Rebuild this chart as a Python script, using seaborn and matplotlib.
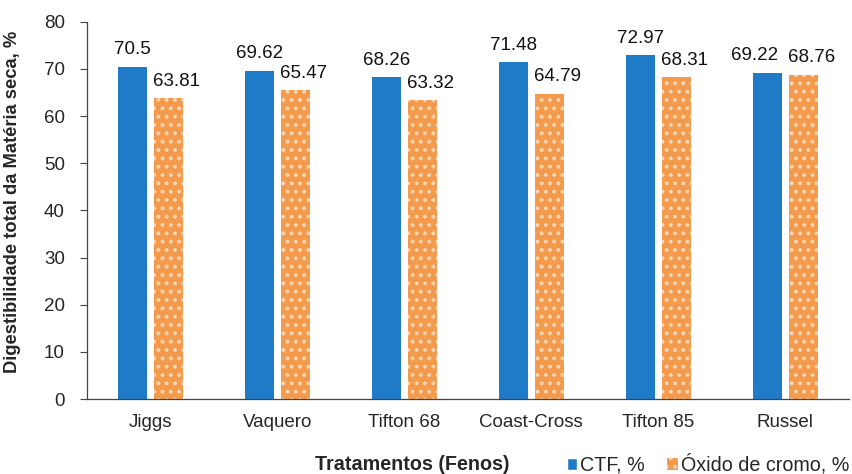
import matplotlib
matplotlib.use("Agg")
import matplotlib.pyplot as plt
import seaborn as sns
import pandas as pd
from matplotlib.patches import Patch

categories = ["Jiggs", "Vaquero", "Tifton 68", "Coast-Cross", "Tifton 85", "Russel"]
ctf = [70.5, 69.62, 68.26, 71.48, 72.97, 69.22]
oxido = [63.81, 65.47, 63.32, 64.79, 68.31, 68.76]
series = ["CTF, %", "Óxido de cromo, %"]
yticks = [0, 10, 20, 30, 40, 50, 60, 70, 80]

df = pd.DataFrame({
    "Feno": categories * 2,
    "Valor": ctf + oxido,
    "Método": [series[0]] * len(categories) + [series[1]] * len(categories),
})

sns.set_theme(style="white")
plt.rcParams["font.family"] = ["Liberation Sans", "DejaVu Sans"]
plt.rcParams["hatch.linewidth"] = 1.6

blue = "#1f7ac8"
orange = "#f49a4c"
dots = "#fbd6b4"

fig = plt.figure(figsize=(8.53, 4.74), dpi=100)
ax = fig.add_axes([0.102, 0.158, 0.893, 0.796])

sns.barplot(data=df, x="Feno", y="Valor", hue="Método", order=categories,
            hue_order=series, palette=[blue, orange], width=0.567, gap=0.19,
            ax=ax, legend=False, saturation=1)

label_fmt = lambda vals: [f"{v:g}" for v in vals]
blue_labels = ax.bar_label(ax.containers[0], labels=label_fmt(ctf), padding=6,
                           fontsize=13.5, color="#111111")
orange_labels = ax.bar_label(ax.containers[1], labels=label_fmt(oxido), padding=6,
                             fontsize=13.5, color="#111111")
# nudge labels sideways so neighbouring values stay readable
for t in orange_labels:
    t.xyann = (6, 6)
blue_labels[-1].xyann = (-9, 6)

# dotted texture on the chromium-oxide bars
for bar in ax.containers[1]:
    bar.set_hatch("..")
    bar.set_edgecolor(dots)
    bar.set_linewidth(0)
for bar in ax.containers[0]:
    bar.set_linewidth(0)

ax.set_ylim(0, 80)
ax.set_yticks(yticks)
ax.set_xlim(-0.5, len(categories) - 0.5)
ax.tick_params(axis="y", which="both", left=True, length=5, width=0.8,
               color="#444444", labelsize=13.5, pad=11)
ax.tick_params(axis="x", bottom=False, labelsize=13.5, pad=5)
for s in ["top", "right"]:
    ax.spines[s].set_visible(False)
for s in ["left", "bottom"]:
    ax.spines[s].set_color("#444444")
    ax.spines[s].set_linewidth(0.9)

ax.set_ylabel("Digestibilidade total da Matéria seca, %", fontsize=13.2,
              fontweight="bold")
ax.yaxis.set_label_coords(-0.086, 0.524)
ax.set_xlabel("")
fig.text(0.483, 0.02, "Tratamentos (Fenos)", fontsize=14.2, fontweight="bold",
         ha="center", va="center")

handles = [Patch(facecolor=blue, label=series[0]),
           Patch(facecolor=orange, hatch="..", edgecolor=dots, linewidth=0,
                 label=series[1])]
fig.legend(handles=handles, loc="center right", bbox_to_anchor=(1.0, 0.02),
           ncol=2, frameon=False, fontsize=14.2, handlelength=0.55,
           handleheight=0.55, handletextpad=0.15, columnspacing=1.1,
           borderaxespad=0.1, borderpad=0.1)

fig.savefig("out.png", dpi=100)
